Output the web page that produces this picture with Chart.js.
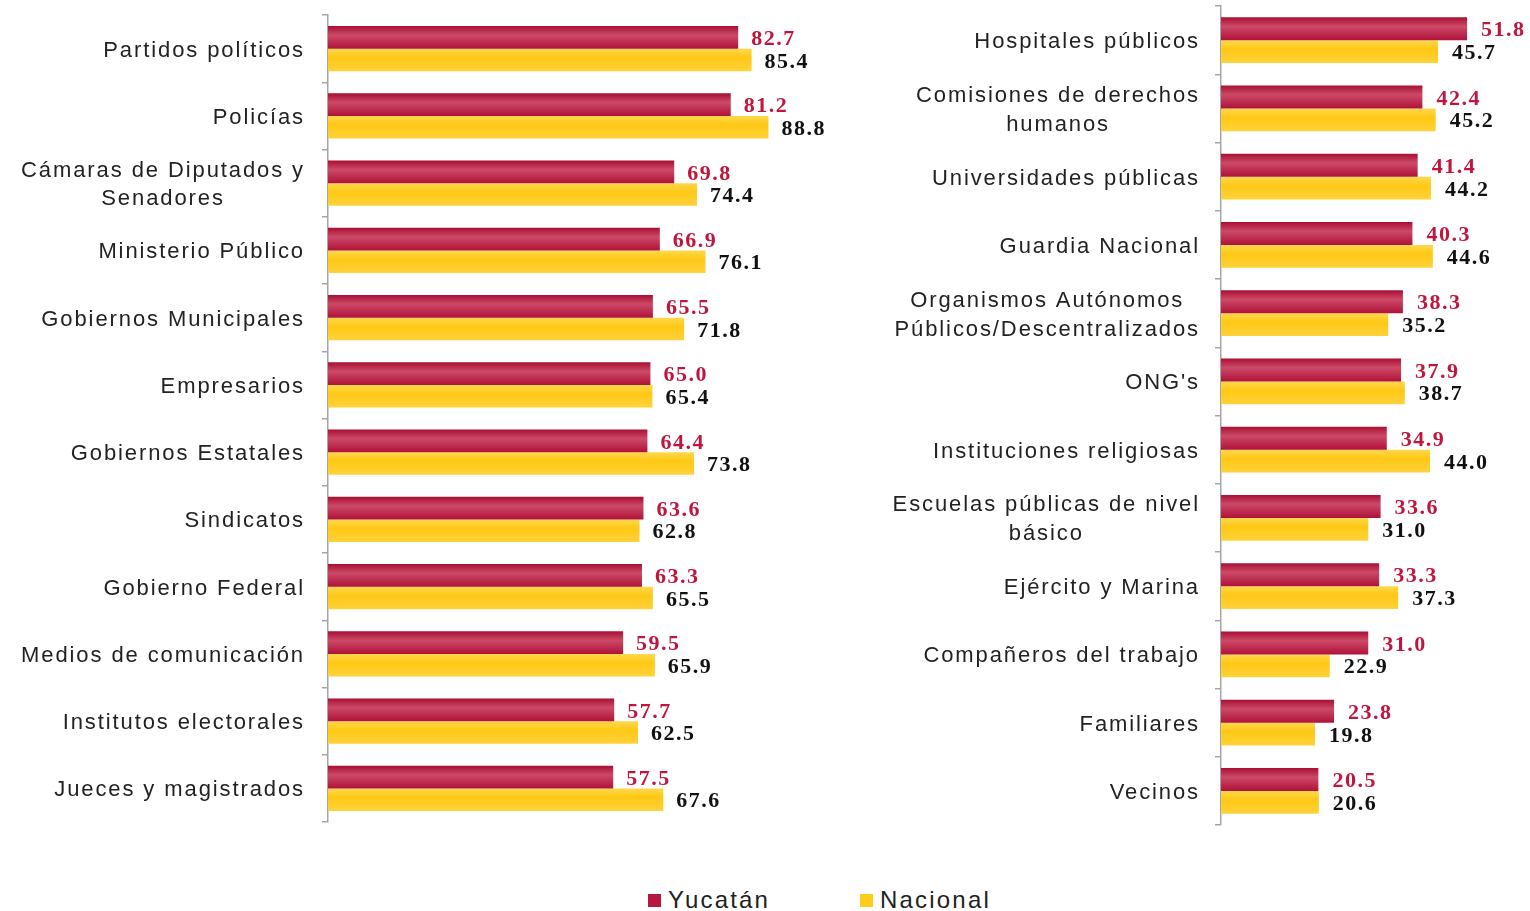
<!DOCTYPE html>
<html>
<head>
<meta charset="utf-8">
<script src="https://cdn.jsdelivr.net/npm/chart.js@4"></script>
<style>
  body { margin: 0; background: #fff; width: 1530px; height: 911px; position: relative; overflow: hidden; }
  #leftBox { position: absolute; left: 0; top: 0; width: 860px; height: 840px; }
  #rightBox { position: absolute; left: 870px; top: 0; width: 660px; height: 840px; }
  #legend { position: absolute; top: 886px; left: 0; width: 1530px; font: 24px "Liberation Sans", Arial, sans-serif; letter-spacing: 2.2px; color: #222; }
  #legend span { position: absolute; top: 0; }
  #legend i { display: inline-block; width: 13px; height: 13px; margin-right: 7px; vertical-align: 1px; }
</style>
</head>
<body>
<div id="leftBox"><canvas id="leftChart"></canvas></div>
<div id="rightBox"><canvas id="rightChart"></canvas></div>
<div id="legend">
  <span style="left:648px"><i style="background:#B5173F"></i>Yucatán</span>
  <span style="left:860px"><i style="background:#FFCC1A"></i>Nacional</span>
</div>
<script>
// --- Datos ---
const leftLabels = [
    ["Partidos políticos"], ["Policías"], ["Cámaras de Diputados y", "Senadores"],
    ["Ministerio Público"], ["Gobiernos Municipales"], ["Empresarios"],
    ["Gobiernos Estatales"], ["Sindicatos"], ["Gobierno Federal"],
    ["Medios de comunicación"], ["Institutos electorales"], ["Jueces y magistrados"]
];
const leftYucatan = [82.7, 81.2, 69.8, 66.9, 65.5, 65.0, 64.4, 63.6, 63.3, 59.5, 57.7, 57.5];
const leftNacional = [85.4, 88.8, 74.4, 76.1, 71.8, 65.4, 73.8, 62.8, 65.5, 65.9, 62.5, 67.6];

const rightLabels = [
    ["Hospitales públicos"], ["Comisiones de derechos", "humanos"], ["Universidades públicas"],
    ["Guardia Nacional"], ["Organismos Autónomos", "Públicos/Descentralizados"], ["ONG's"],
    ["Instituciones religiosas"], ["Escuelas públicas de nivel", "básico"], ["Ejército y Marina"],
    ["Compañeros del trabajo"], ["Familiares"], ["Vecinos"]
];
const rightYucatan = [51.8, 42.4, 41.4, 40.3, 38.3, 37.9, 34.9, 33.6, 33.3, 31.0, 23.8, 20.5];
const rightNacional = [45.7, 45.2, 44.2, 44.6, 35.2, 38.7, 44.0, 31.0, 37.3, 22.9, 19.8, 20.6];

const seriesNames = ["Yucatán", "Nacional"];

// --- Colores ---
const RED = ["#A80F33", "#CC4A67", "#B0123A"];
const YELLOW = ["#FFD84E", "#FFC815", "#FFD23A"];
const CAT_PCT = 0.67;

// gradiente vertical para dar el efecto de barra "3D"
function barFill(ds) {
    return (ctx) => {
        const chart = ctx.chart;
        const y = chart.scales.y;
        const stops = ds === 0 ? RED : YELLOW;
        if (!y || ctx.dataIndex == null) return stops[1];
        const center = y.getPixelForValue(ctx.dataIndex);
        const half = (y.height / chart.data.labels.length) * CAT_PCT / 2;
        const top = ds === 0 ? center - half : center;
        if (!isFinite(top) || !isFinite(half) || half <= 0) return stops[1];
        const g = chart.ctx.createLinearGradient(0, top, 0, top + half);
        g.addColorStop(0, stops[0]);
        g.addColorStop(0.4, stops[1]);
        g.addColorStop(1, stops[2]);
        return g;
    };
}

// etiquetas de categoría (centradas si tienen varias líneas) y valores
const labelPlugin = {
    id: 'customLabels',
    afterDraw(chart, args, opts) {
        const ctx = chart.ctx;
        const y = chart.scales.y;
        ctx.save();
        ctx.font = '22px "Liberation Sans", Arial, sans-serif';
        ctx.letterSpacing = '1.9px';
        ctx.fillStyle = '#222';
        ctx.textBaseline = 'middle';
        ctx.textAlign = 'center';
        chart.data.labels.forEach((lines, i) => {
            const c = y.getPixelForValue(i) + 2;
            const w = Math.max(...lines.map(l => ctx.measureText(l).width));
            const cx = y.right - opts.gap - w / 2;
            lines.forEach((l, k) => {
                ctx.fillText(l, cx, c + (k - (lines.length - 1) / 2) * opts.lineHeight);
            });
        });

        ctx.font = 'bold 22px "Liberation Serif", "Times New Roman", serif';
        ctx.letterSpacing = '1.5px';
        ctx.textAlign = 'left';
        chart.data.datasets.forEach((ds, d) => {
            const meta = chart.getDatasetMeta(d);
            ctx.fillStyle = d === 0 ? '#C0163E' : '#111';
            meta.data.forEach((bar, i) => {
                ctx.fillText(ds.data[i].toFixed(1), bar.x + opts.valueGap, bar.y + 2);
            });
        });
        ctx.restore();
    }
};

function makeChart(id, labels, yuc, nac, opts) {
    const chart = new Chart(document.getElementById(id), {
        type: 'bar',
        data: {
            labels: labels,
            datasets: [
                { label: seriesNames[0], data: yuc, backgroundColor: barFill(0) },
                { label: seriesNames[1], data: nac, backgroundColor: barFill(1) }
            ]
        },
        options: {
            indexAxis: 'y',
            responsive: true,
            maintainAspectRatio: false,
            animation: false,
            layout: { padding: opts.padding },
            datasets: { bar: { barPercentage: 1, categoryPercentage: CAT_PCT } },
            scales: {
                x: { display: false, min: 0, max: opts.max },
                y: {
                    afterFit: (s) => { s.width = opts.axisWidth; },
                    border: { display: true, color: '#A6A6A6', width: 1.5 },
                    grid: { offset: true, drawOnChartArea: false, drawTicks: true, tickLength: 6, color: '#A6A6A6', lineWidth: 1.5 },
                    ticks: { color: 'rgba(0,0,0,0)', font: { size: 1 } }
                }
            },
            plugins: {
                legend: { display: false },
                tooltip: { enabled: false },
                customLabels: { gap: opts.gap, lineHeight: opts.lineHeight, valueGap: opts.valueGap }
            }
        },
        plugins: [labelPlugin]
    });
    chart.update();
    return chart;
}

document.addEventListener("DOMContentLoaded", () => {
    makeChart("leftChart", leftLabels, leftYucatan, leftNacional, {
        max: 100, axisWidth: 328, gap: 23, lineHeight: 28, valueGap: 13,
        padding: { top: 15, bottom: 18, left: 0, right: 36 }
    });
    makeChart("rightChart", rightLabels, rightYucatan, rightNacional, {
        max: 60, axisWidth: 351, gap: 21, lineHeight: 29, valueGap: 14,
        padding: { top: 6, bottom: 15, left: 0, right: 24 }
    });
});
</script>
</body>
</html>
